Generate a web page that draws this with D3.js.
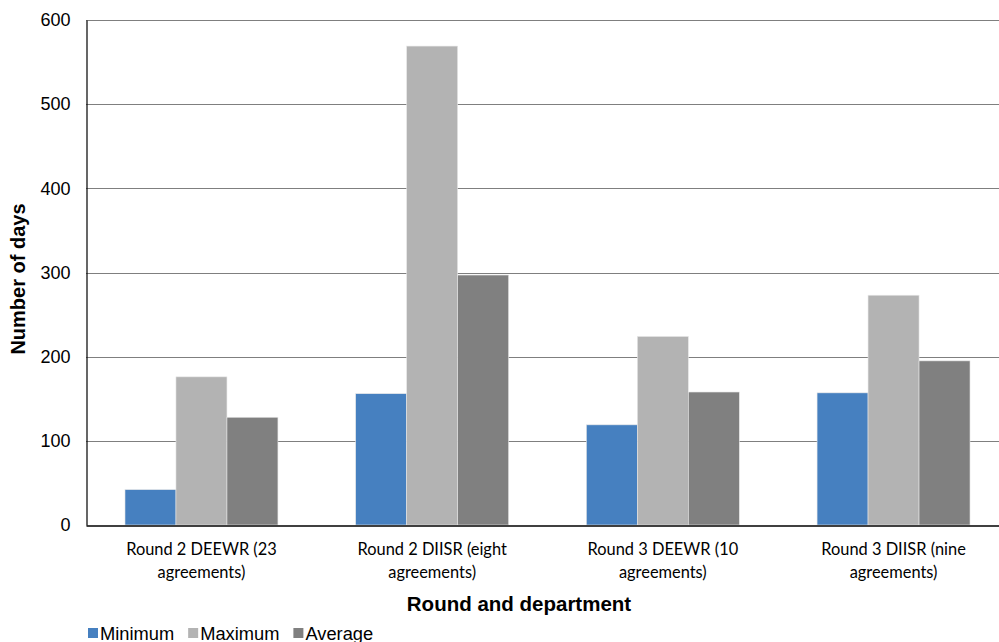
<!DOCTYPE html>
<html><head><meta charset="utf-8">
<script src="https://cdn.jsdelivr.net/npm/d3@7"></script>
<style>body{margin:0;background:#fff}svg{display:block}</style>
</head><body>
<svg id="c" width="999" height="642"></svg>
<script>
const categories = [["Round 2 DEEWR (23","agreements)"],["Round 2 DIISR (eight","agreements)"],["Round 3 DEEWR (10","agreements)"],["Round 3 DIISR (nine","agreements)"]];
const seriesNames = ["Minimum","Maximum","Average"];
const minimum = [42, 156, 119, 157];
const maximum = [176, 569, 224, 273];
const average = [128, 297, 158, 195];
const yTicks = [0,100,200,300,400,500,600];
const colors = ["#4680c0","#b3b3b3","#808080"];

const series = [minimum, maximum, average];
const svg = d3.select("#c");
const L=86,R=1009,T=20,B=525;
const x = d3.scaleBand().domain(d3.range(categories.length)).range([L,R]).paddingInner(0.337).paddingOuter(0.169);
const xs = d3.scaleBand().domain(d3.range(series.length)).range([0,x.bandwidth()]);
const y = d3.scaleLinear().domain([0,600]).range([B,T]);

// gridlines
svg.append("g").selectAll("line").data(yTicks.filter(d=>d>0)).join("line")
  .attr("x1",L).attr("x2",999).attr("y1",d=>Math.round(y(d))+0.5).attr("y2",d=>Math.round(y(d))+0.5)
  .attr("stroke","#7f7f7f").attr("stroke-width",1);

// bars
categories.forEach((c,i)=>{
  series.forEach((s,j)=>{
    svg.append("rect").attr("x",x(i)+xs(j)).attr("width",xs.bandwidth())
      .attr("y",y(s[i])).attr("height",B-y(s[i])).attr("fill",colors[j])
      .attr("stroke","#e6e6e6").attr("stroke-width",0.6);
  });
});

// y axis
const yAxis = d3.axisLeft(y).tickValues(yTicks).tickSize(0).tickPadding(16);
const gy = svg.append("g").attr("transform",`translate(${L+0.5},0)`).call(yAxis);
gy.select(".domain").attr("stroke","#000").attr("stroke-width",1.2);
gy.selectAll("text").attr("font-family","Liberation Sans, Arial, sans-serif").attr("font-size",18).attr("fill","#000");

// x axis
const xAxis = d3.axisBottom(x).tickSize(0).tickFormat("");
const gx = svg.append("g").attr("transform",`translate(0,${B+0.5})`).call(xAxis);
gx.select(".domain").attr("stroke","#000").attr("stroke-width",1.6);
categories.forEach((c,i)=>{
  const t = svg.append("text").attr("x",x(i)+x.bandwidth()/2).attr("y",555)
    .attr("text-anchor","middle").attr("font-family","Lato, Open Sans, sans-serif").attr("font-size",16.4).attr("fill","#000");
  c.forEach((line,k)=>t.append("tspan").attr("x",x(i)+x.bandwidth()/2).attr("dy",k?23:0).text(line));
});

// titles
svg.append("text").attr("x",519).attr("y",611).attr("text-anchor","middle")
  .attr("font-family","Liberation Sans, Arial, sans-serif").attr("font-weight","bold").attr("font-size",20.5).text("Round and department");
svg.append("text").attr("transform","translate(25,279) rotate(-90)").attr("text-anchor","middle")
  .attr("font-family","Liberation Sans, Arial, sans-serif").attr("font-weight","bold").attr("font-size",20).text("Number of days");

// legend
const lg = svg.append("g");
let lx = 88;
seriesNames.forEach((n,j)=>{
  lg.append("rect").attr("x",lx).attr("y",628).attr("width",10).attr("height",10).attr("fill",colors[j]);
  const t = lg.append("text").attr("x",lx+12).attr("y",640).attr("font-family","Liberation Sans, Arial, sans-serif").attr("font-size",18.3).text(n);
  lx += t.node().getComputedTextLength() + 12 + 14;
});
</script>
</body></html>
